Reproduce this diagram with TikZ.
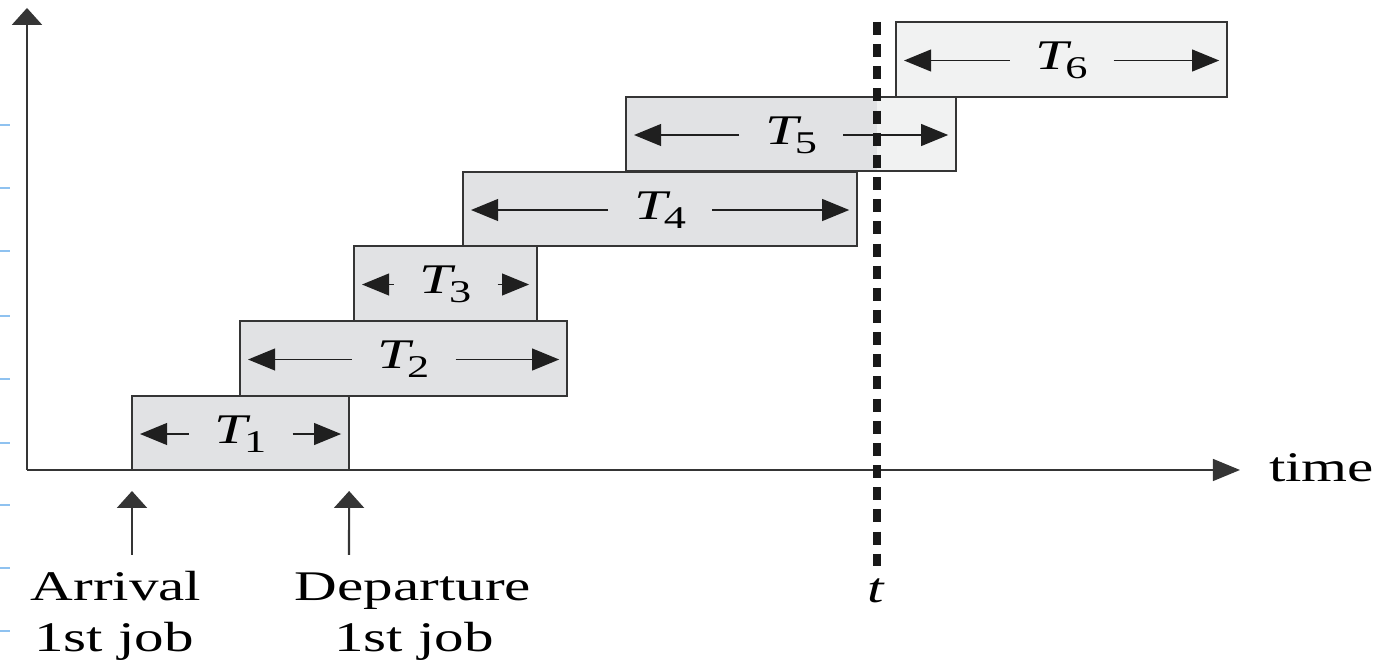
\documentclass[tikz,border=0pt]{standalone}
\usepackage{fontspec}
\setmainfont{Liberation Serif}
\usetikzlibrary{arrows.meta,calc}

\definecolor{boxgray}{HTML}{E1E2E4}
\definecolor{boxlight}{HTML}{F1F2F2}
\definecolor{edge}{HTML}{353535}
\definecolor{tickblue}{HTML}{8FC2F0}

% job duration label: italic T with a lowered index
\newcommand\jobT[1]{\textit{T}\kern-1.4pt\raisebox{-2.6pt}{\fontsize{9}{9}\selectfont #1}}

\tikzset{
  jobbox/.style={draw=edge, line width=0.6pt, fill=boxgray, inner sep=0pt, outer sep=0pt, anchor=north west},
  jlabel/.style={anchor=base, xscale=1.4, inner xsep=0.18cm, inner ysep=0pt, font=\fontsize{12}{14}\selectfont},
  span/.style={draw=black!88, line width=0.5pt, -{Triangle[length=7.7pt,width=6.2pt]}},
  caption/.style={anchor=base, xscale=1.4, inner sep=0pt, font=\fontsize{12}{14}\selectfont},
  axisline/.style={draw=edge, line width=0.6pt},
  htip/.style={-{Triangle[length=7.7pt,width=6.2pt]}},
  vtip/.style={-{Triangle[length=4.8pt,width=8.5pt]}},
  marker/.style={draw=black!90, line width=2.5pt, dash pattern=on 3.7pt off 2.6pt},
}

\begin{document}
\begin{tikzpicture}[x=0.01cm, y=-0.01cm]
  \useasboundingbox (0,0) rectangle (1376,668);

  % faint margin ticks
  \foreach \yy in {125,188,251,316,379,443,505,568,631}
    \draw[tickblue, line width=0.7pt] (0,\yy) -- (10,\yy);

  % axes
  \coordinate (origin) at (27,470);
  \coordinate (ytip) at (27,8);
  \coordinate (xtip) at (1240,470);
  \draw[axisline, vtip] (origin) -- (ytip);
  \draw[axisline, htip] (origin) -- (xtip);
  \node[caption, anchor=base west] (timelab) at (1268,482) {time};

  % job boxes
  \node[jobbox, minimum width=2.17cm, minimum height=0.74cm] (b1) at (132,396) {};
  \node[jobbox, minimum width=3.27cm, minimum height=0.75cm] (b2) at (240,321) {};
  \node[jobbox, minimum width=1.83cm, minimum height=0.75cm] (b3) at (354,246) {};
  \node[jobbox, minimum width=3.94cm, minimum height=0.74cm] (b4) at (463,172) {};
  \node[jobbox, minimum width=3.30cm, minimum height=0.74cm] (b5) at (626,97) {};
  \node[jobbox, fill=boxlight, minimum width=3.31cm, minimum height=0.75cm] (b6) at (896,22) {};

  % part of the fifth job lying after t
  \coordinate (tx) at (877,0);
  \fill[boxlight] (b5.north -| tx) rectangle (b5.south east);
  \draw[edge, line width=0.6pt] (b5.north west) rectangle (b5.south east);

  % duration labels with spanning arrows
  \foreach \i in {1,...,6} {
    \node[jlabel] (l\i) at ($(b\i.center)+(0,10)$) {\jobT{\i}};
    \draw[span] ($(b\i.center -| l\i.west)+(0,1)$) -- ($(b\i.west)+(8,1)$);
    \draw[span] ($(b\i.center -| l\i.east)+(0,1)$) -- ($(b\i.east)+(-8,1)$);
  }

  % observation instant t
  \coordinate (ttop) at (877,22);
  \coordinate (tbot) at (877,566);
  \draw[marker] (ttop) -- (tbot);
  \node[caption, font=\fontsize{12}{14}\selectfont\itshape] (tlab) at (876,603) {t};

  % first job arrival and departure
  \node[caption] (arr1) at (116,601) {Arrival};
  \node[caption] (arr2) at (114,652) {1st job};
  \node[caption] (dep1) at (413,601) {Departure};
  \node[caption] (dep2) at (414,652) {1st job};
  \coordinate (arrtail) at (132,555);
  \coordinate (deptail) at (349,555);
  \draw[axisline, vtip] (arrtail) -- ($(b1.south west)+(0,21)$);
  \draw[axisline, vtip] (deptail) -- ($(b1.south east)+(0,21)$);
\end{tikzpicture}
\end{document}
